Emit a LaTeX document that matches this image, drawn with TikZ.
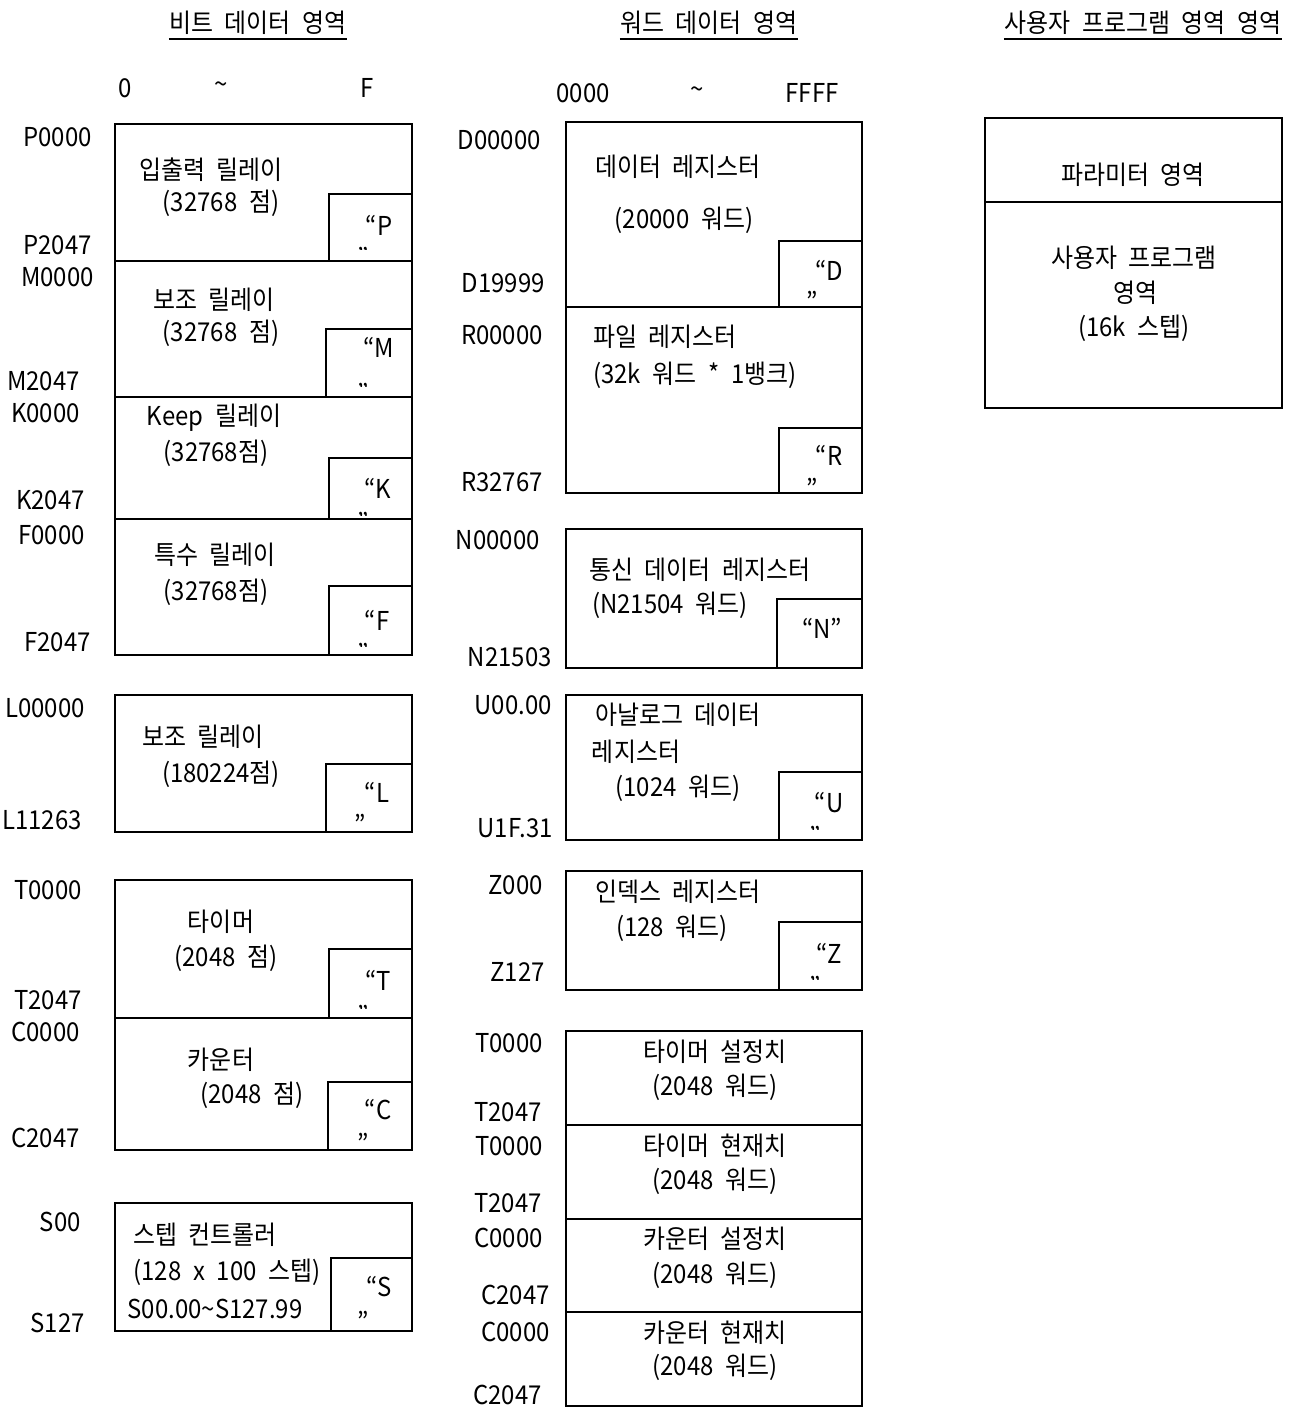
\documentclass[tikz,border=0pt]{standalone}
\usepackage{fontspec}
\setmainfont{Noto Sans CJK KR}[WordSpace=2.2,FakeStretch=0.92]
\usetikzlibrary{positioning}

\tikzset{
  area/.style={draw,line width=1pt},
  txt/.style={inner sep=0pt,font=\fontsize{13}{15}\selectfont},
  addr/.style={txt,anchor=east},
  cq/.style={txt,anchor=north}
}

\begin{document}
\begin{tikzpicture}[x=0.5pt,y=-0.5pt]
\useasboundingbox (0,0) rectangle (1304,1407);

% titles
\node[txt] (tbit) at (258,23) {비트 데이터 영역};
\node[txt] (tword) at (709,23) {워드 데이터 영역};
\node[txt] (tprog) at (1143,23) {사용자 프로그램 영역 영역};
\foreach \t in {tbit,tword,tprog}
  \draw[line width=1pt] ([yshift=-2pt]\t.south west) -- ([yshift=-2pt]\t.south east);

% column heads
\node[txt] (bit0) at (125,88) {0};
\node[txt] (bitt) at (221,88) {\textasciitilde};
\node[txt] (bitF) at (367,88) {F};
\node[txt] (wrd0) at (583,93) {0000};
\node[txt] (wrdt) at (697,93) {\textasciitilde};
\node[txt] (wrdF) at (812,93) {FFFF};

% ---- bit data area
\draw[area] (115,124) rectangle (412,655);
\draw[area] (115,261) -- (412,261) (115,397) -- (412,397) (115,519) -- (412,519);
\draw[area] (329,194) rectangle (412,261);
\draw[area] (326,329) rectangle (412,397);
\draw[area] (329,458) rectangle (412,519);
\draw[area] (329,586) rectangle (412,655);
\draw[area] (115,695) rectangle (412,832);
\draw[area] (326,764) rectangle (412,832);
\draw[area] (115,880) rectangle (412,1150);
\draw[area] (115,1018) -- (412,1018);
\draw[area] (329,949) rectangle (412,1018);
\draw[area] (328,1082) rectangle (412,1150);
\draw[area] (115,1203) rectangle (412,1331);
\draw[area] (331,1258) rectangle (412,1331);

\node[txt] (pio) at (211,170) {입출력 릴레이};
\node[txt] (pion) at (221,203) {(32768 점)};
\node[txt] (maux) at (214,300) {보조 릴레이};
\node[txt] (mauxn) at (221,333) {(32768 점)};
\node[txt] (kkeep) at (214,418) {Keep 릴레이};
\node[txt] (kkeepn) at (216,453) {(32768점)};
\node[txt] (fspc) at (215,555) {특수 릴레이};
\node[txt] (fspcn) at (216,592) {(32768점)};
\node[txt] (laux) at (203,737) {보조 릴레이};
\node[txt] (lauxn) at (221,774) {(180224점)};
\node[txt] (ttmr) at (221,922) {타이머};
\node[txt] (ttmrn) at (226,958) {(2048 점)};
\node[txt] (ccnt) at (221,1060) {카운터};
\node[txt] (ccntn) at (252,1095) {(2048 점)};
\node[txt] (sstp) at (205,1235) {스텝 컨트롤러};
\node[txt] (sstpn) at (227,1272) {(128 x 100 스텝)};
\node[txt] (sstpr) at (215,1309) {S00.00\textasciitilde S127.99};

\node[addr] (aP0) at (92,137) {P0000};
\node[addr] (aP1) at (92,245) {P2047};
\node[addr] (aM0) at (94,277) {M0000};
\node[addr] (aM1) at (80,381) {M2047};
\node[addr] (aK0) at (80,413) {K0000};
\node[addr] (aK1) at (85,500) {K2047};
\node[addr] (aF0) at (85,535) {F0000};
\node[addr] (aF1) at (91,642) {F2047};
\node[addr] (aL0) at (85,708) {L00000};
\node[addr] (aL1) at (82,820) {L11263};
\node[addr] (aT0) at (82,890) {T0000};
\node[addr] (aT1) at (82,1000) {T2047};
\node[addr] (aC0) at (80,1032) {C0000};
\node[addr] (aC1) at (80,1138) {C2047};
\node[addr] (aS0) at (81,1222) {S00};
\node[addr] (aS1) at (85,1323) {S127};

% ---- word data area
\draw[area] (566,122) rectangle (862,493);
\draw[area] (566,307) -- (862,307);
\draw[area] (779,241) rectangle (862,307);
\draw[area] (779,428) rectangle (862,493);
\draw[area] (566,529) rectangle (862,668);
\draw[area] (777,599) rectangle (862,668);
\draw[area] (566,695) rectangle (862,840);
\draw[area] (779,772) rectangle (862,840);
\draw[area] (566,871) rectangle (862,990);
\draw[area] (779,922) rectangle (862,990);
\draw[area] (566,1031) rectangle (862,1406);
\draw[area] (566,1125) -- (862,1125) (566,1219) -- (862,1219) (566,1312) -- (862,1312);

\node[txt] (dreg) at (678,167) {데이터 레지스터};
\node[txt] (dregn) at (684,220) {(20000 워드)};
\node[txt] (rreg) at (665,337) {파일 레지스터};
\node[txt] (rregn) at (695,375) {(32k 워드 * 1뱅크)};
\node[txt] (nreg) at (700,570) {통신 데이터 레지스터};
\node[txt] (nregn) at (670,605) {(N21504 워드)};
\node[txt] (ureg) at (678,715) {아날로그 데이터};
\node[txt] (ureg2) at (636,752) {레지스터};
\node[txt] (uregn) at (678,788) {(1024 워드)};
\node[txt] (zreg) at (678,892) {인덱스 레지스터};
\node[txt] (zregn) at (672,928) {(128 워드)};
\node[txt] (tset) at (715,1052) {타이머 설정치};
\node[txt] (tsetn) at (715,1087) {(2048 워드)};
\node[txt] (tcur) at (715,1146) {타이머 현재치};
\node[txt] (tcurn) at (715,1181) {(2048 워드)};
\node[txt] (cset) at (715,1239) {카운터 설정치};
\node[txt] (csetn) at (715,1275) {(2048 워드)};
\node[txt] (ccur) at (715,1333) {카운터 현재치};
\node[txt] (ccurn) at (715,1367) {(2048 워드)};

\node[addr] (aD0) at (541,140) {D00000};
\node[addr] (aD1) at (545,283) {D19999};
\node[addr] (aR0) at (543,335) {R00000};
\node[addr] (aR1) at (543,482) {R32767};
\node[addr] (aN0) at (540,540) {N00000};
\node[addr] (aN1) at (552,657) {N21503};
\node[addr] (aU0) at (552,705) {U00.00};
\node[addr] (aU1) at (553,828) {U1F.31};
\node[addr] (aZ0) at (543,885) {Z000};
\node[addr] (aZ1) at (545,972) {Z127};
\node[addr] (aTs0) at (543,1043) {T0000};
\node[addr] (aTs1) at (542,1112) {T2047};
\node[addr] (aTc0) at (543,1146) {T0000};
\node[addr] (aTc1) at (542,1203) {T2047};
\node[addr] (aCs0) at (543,1238) {C0000};
\node[addr] (aCs1) at (550,1295) {C2047};
\node[addr] (aCc0) at (550,1332) {C0000};
\node[addr] (aCc1) at (542,1395) {C2047};

% device letters
\node[txt] (qP) at (379,225) {“P};
\node[txt] (qM) at (379,347) {“M};
\node[txt] (qK) at (378,488) {“K};
\node[txt] (qF) at (377,620) {“F};
\node[txt] (qL) at (377,792) {“L};
\node[txt] (qT) at (378,980) {“T};
\node[txt] (qC) at (378,1110) {“C};
\node[txt] (qS) at (379,1287) {“S};
\node[txt] (qD) at (829,270) {“D};
\node[txt] (qR) at (829,455) {“R};
\node[txt] (qN) at (822,628) {“N”};
\node[txt] (qU) at (829,803) {“U};
\node[txt] (qZ) at (829,953) {“Z};
% closing quotes, full
\foreach \qx/\qy [count=\i] in {360/814,363/1133,363/1311,812/291,812/478}
  \node[cq] (cqa\i) at (\qx,\qy) {”};
% closing quotes, cut by the text frame
\foreach \qx/\qy [count=\i] in {363/249,363/385,363/514,363/645,363/1007,815/828,815/978}
{
  \begin{scope}
    \clip (\qx-20,\qy-15) rectangle (\qx+20,\qy+1);
    \node[cq] (cqb\i) at (\qx,\qy-2) {”};
  \end{scope}
}

% ---- user program area
\draw[area] (985,118) rectangle (1282,408);
\draw[area] (985,202) -- (1282,202);
\node[txt] (parm) at (1133,175) {파라미터 영역};
\node[txt] (uprg) at (1134,258) {사용자 프로그램};
\node[txt] (uprg2) at (1135,293) {영역};
\node[txt] (uprgn) at (1134,328) {(16k 스텝)};
\end{tikzpicture}
\end{document}
